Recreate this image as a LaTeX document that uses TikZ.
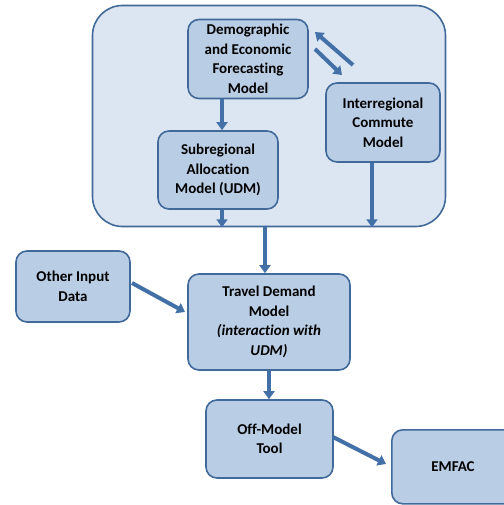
\documentclass[tikz,border=0pt]{standalone}
\usepackage{fontspec}
\setmainfont{Carlito}[Ligatures=NoCommon]
\usetikzlibrary{arrows.meta}
\definecolor{boxfill}{HTML}{B9CDE5}
\definecolor{boxedge}{HTML}{41699A}
\definecolor{contfill}{HTML}{DCE6F2}
\definecolor{arrowcol}{HTML}{4470A8}
\begin{document}
\begin{tikzpicture}[x=1pt,y=-1pt,
  box/.style={draw=boxedge, fill=boxfill, line width=1.6pt, rounded corners=11pt,
    align=center, font=\bfseries\fontsize{15}{19.5}\selectfont, inner sep=0pt},
  flow/.style={draw=arrowcol, line width=4pt,
    -{Triangle[width=11pt,length=8pt]}, shorten >=0pt}]
\useasboundingbox (0,0) rectangle (503,505);
% container
\node[draw=boxedge, fill=contfill, line width=1.6pt, rounded corners=30pt,
  minimum width=353pt, minimum height=221pt, inner sep=0pt] (cont) at (269,116) {};
\node[box, minimum width=120pt, minimum height=79pt] (demo) at (248,59)
  {Demographic\\and Economic\\Forecasting\\Model};
\node[box, minimum width=114pt, minimum height=79pt] (inter) at (383,122.5)
  {Interregional\\Commute\\Model};
\node[box, minimum width=120pt, minimum height=78pt] (sub) at (218,170)
  {Subregional\\Allocation\\Model (UDM)};
\node[box, minimum width=114pt, minimum height=71pt] (other) at (73,286.5)
  {Other Input\\Data};
\node[box, minimum width=162pt, minimum height=96pt] (travel) at (269,322)
  {Travel Demand\\Model\\\textit{(interaction with}\\\textit{UDM)}};
\node[box, minimum width=127pt, minimum height=78pt] (off) at (269.5,439)
  {Off-Model\\Tool};
\node[box, minimum width=124pt, minimum height=74pt, anchor=north west] (emfac) at (391,429) {};
\node[font=\bfseries\fontsize{15}{19.5}\selectfont] (emfactext) at (453,467) {EMFAC};
% connectors
\coordinate (a1s) at (353,65); \coordinate (a1e) at (315,32);
\coordinate (a2s) at (315,49); \coordinate (a2e) at (342,75);
\draw[flow] (a1s) -- (a1e);
\draw[flow] (a2s) -- (a2e);
\draw[flow] (demo.south -| 222,0) -- (sub.north -| 222,0);
\draw[flow] (sub.south -| 222,0) -- (cont.south -| 222,0);
\draw[flow] (inter.south -| 372,0) -- (cont.south -| 372,0);
\draw[flow] (cont.south -| 265,0) -- (travel.north -| 265,0);
\coordinate (o1) at (132,283); \coordinate (o2) at (185,312);
\draw[flow] (o1) -- (o2);
\draw[flow] (travel.south -| 269,0) -- (off.north -| 269,0);
\coordinate (e1) at (333,437); \coordinate (e2) at (386,464);
\draw[flow] (e1) -- (e2);
\end{tikzpicture}
\end{document}
